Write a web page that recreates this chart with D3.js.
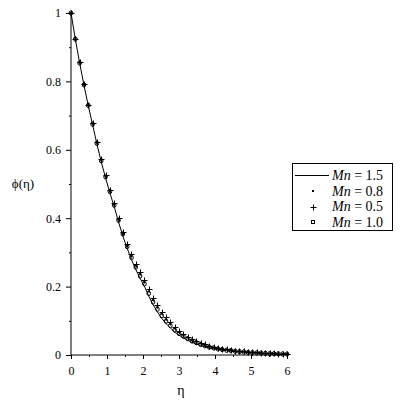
<!DOCTYPE html>
<html>
<head>
<meta charset="utf-8">
<script src="https://cdnjs.cloudflare.com/ajax/libs/d3/7.8.5/d3.min.js"></script>
<style>
  body { margin: 0; background: #fff; }
  svg text { font-family: "Liberation Serif", "Times New Roman", serif; fill: #000; }
</style>
</head>
<body>
<div id="chart"></div>
<script>
// eta grid (markers every 0.12)
var eta = [0, 0.12, 0.24, 0.36, 0.48, 0.6, 0.72, 0.84, 0.96, 1.08,
  1.2, 1.32, 1.44, 1.56, 1.68, 1.8, 1.92, 2.04, 2.16, 2.28,
  2.4, 2.52, 2.64, 2.76, 2.88, 3, 3.12, 3.24, 3.36, 3.48,
  3.6, 3.72, 3.84, 3.96, 4.08, 4.2, 4.32, 4.44, 4.56, 4.68,
  4.8, 4.92, 5.04, 5.16, 5.28, 5.4, 5.52, 5.64, 5.76, 5.88, 6];

// Mn = 1.5 (solid line)
var mn15 = [1, 0.924, 0.854, 0.789, 0.729, 0.673, 0.617, 0.565, 0.518, 0.474,
  0.434, 0.389, 0.348, 0.312, 0.279, 0.250, 0.224, 0.201, 0.172, 0.147,
  0.126, 0.107, 0.092, 0.079, 0.067, 0.058, 0.050, 0.043, 0.037, 0.032,
  0.028, 0.024, 0.021, 0.018, 0.016, 0.014, 0.0127, 0.0112, 0.0100, 0.0088,
  0.0078, 0.0069, 0.0062, 0.0055, 0.0048, 0.0043, 0.0038, 0.0034, 0.0030, 0.0027, 0.0024];

// Mn = 0.8 (dots)
var mn08 = [1, 0.925, 0.855, 0.791, 0.731, 0.677, 0.621, 0.570, 0.523, 0.480,
  0.441, 0.397, 0.357, 0.322, 0.290, 0.261, 0.237, 0.214, 0.186, 0.161,
  0.140, 0.121, 0.104, 0.091, 0.078, 0.067, 0.058, 0.051, 0.044, 0.039,
  0.034, 0.029, 0.025, 0.022, 0.020, 0.018, 0.016, 0.014, 0.012, 0.011,
  0.010, 0.0083, 0.0076, 0.0069, 0.0062, 0.0054, 0.0049, 0.0043, 0.0038, 0.0035, 0.0031];

// Mn = 0.5 (crosses)
var mn05 = [1, 0.925, 0.856, 0.791, 0.732, 0.678, 0.622, 0.572, 0.526, 0.483,
  0.444, 0.401, 0.361, 0.326, 0.294, 0.266, 0.242, 0.220, 0.192, 0.167,
  0.146, 0.126, 0.110, 0.096, 0.082, 0.071, 0.062, 0.054, 0.047, 0.041,
  0.036, 0.031, 0.027, 0.024, 0.021, 0.019, 0.017, 0.015, 0.013, 0.012,
  0.011, 0.009, 0.008, 0.0075, 0.0068, 0.006, 0.0053, 0.0047, 0.0042, 0.0038, 0.0034];

// Mn = 1.0 (small circles)
var mn10 = [1, 0.924, 0.854, 0.790, 0.730, 0.675, 0.619, 0.568, 0.521, 0.478,
  0.438, 0.394, 0.354, 0.317, 0.285, 0.257, 0.231, 0.208, 0.180, 0.155,
  0.134, 0.115, 0.099, 0.086, 0.073, 0.063, 0.055, 0.048, 0.041, 0.036,
  0.031, 0.027, 0.023, 0.021, 0.018, 0.016, 0.014, 0.013, 0.011, 0.010,
  0.009, 0.0077, 0.0070, 0.0063, 0.0056, 0.0049, 0.0044, 0.0039, 0.0035, 0.0031, 0.0028];

var xTicks = [0, 1, 2, 3, 4, 5, 6];
var xMinor = [0.5, 1.5, 2.5, 3.5, 4.5, 5.5];
var yTicks = [0, 0.2, 0.4, 0.6, 0.8, 1];
var yMinor = [0.1, 0.3, 0.5, 0.7, 0.9];

var legendItems = [
  {value: "1.5", kind: "line"},
  {value: "0.8", kind: "dot"},
  {value: "0.5", kind: "cross"},
  {value: "1.0", kind: "box"}
];

var serif = "Liberation Serif, Times New Roman, serif";
var width = 401, height = 401;

var svg = d3.select("#chart").append("svg")
    .attr("width", width)
    .attr("height", height);

var x = d3.scaleLinear().domain([0, 6]).range([71, 287]);
var y = d3.scaleLinear().domain([0, 1]).range([355, 13]);

function fmt(d) { return String(+d.toFixed(1)); }

// axes (major + minor ticks)
var xAxis = svg.append("g")
    .attr("transform", "translate(0,355)")
    .call(d3.axisBottom(x).tickValues(xTicks).tickSize(4).tickPadding(7).tickFormat(fmt));
svg.append("g")
    .attr("transform", "translate(0,355)")
    .call(d3.axisBottom(x).tickValues(xMinor).tickSize(2).tickFormat(""))
    .select(".domain").remove();

var yAxis = svg.append("g")
    .attr("transform", "translate(71,0)")
    .call(d3.axisLeft(y).tickValues(yTicks).tickSize(5).tickPadding(5).tickFormat(fmt));
svg.append("g")
    .attr("transform", "translate(71,0)")
    .call(d3.axisLeft(y).tickValues(yMinor).tickSize(2).tickFormat(""))
    .select(".domain").remove();

xAxis.select(".domain").remove();
yAxis.select(".domain").remove();
xAxis.attr("font-family", serif).attr("font-size", 12);
yAxis.attr("font-family", serif).attr("font-size", 12);
svg.append("line").attr("x1", x(0)).attr("x2", x(6)).attr("y1", y(0)).attr("y2", y(0))
    .attr("stroke", "#000");
svg.append("line").attr("x1", x(0)).attr("x2", x(0)).attr("y1", y(0)).attr("y2", y(1))
    .attr("stroke", "#000");

svg.selectAll(".tick text")
    .style("font-size", "12px")
    .style("font-family", serif)
    .attr("fill", "#000");
svg.selectAll(".tick line").attr("stroke", "#000");

// axis titles
svg.append("text")
    .attr("x", 181).attr("y", 395)
    .attr("text-anchor", "middle")
    .style("font-size", "14px")
    .style("font-family", serif)
    .text("η");
svg.append("text")
    .attr("x", 23).attr("y", 188)
    .attr("text-anchor", "middle")
    .style("font-size", "13px")
    .style("font-family", serif)
    .text("ϕ(η)");

function pts(vals) {
  return vals.map(function(v, i) { return [eta[i], v]; });
}

var line = d3.line()
    .x(function(d) { return x(d[0]); })
    .y(function(d) { return y(d[1]); });

var plot = svg.append("g");

// Mn = 1.5
plot.append("path")
    .datum(pts(mn15))
    .attr("d", line)
    .attr("fill", "none")
    .attr("stroke", "#000")
    .attr("stroke-width", 1);

// Mn = 1.0 circles
plot.selectAll(".circ")
    .data(pts(mn10))
    .enter().append("ellipse")
    .attr("class", "circ")
    .attr("cx", function(d) { return x(d[0]); })
    .attr("cy", function(d) { return y(d[1]); })
    .attr("rx", 1.8).attr("ry", 2.2)
    .attr("fill", "none")
    .attr("stroke", "#000")
    .attr("stroke-width", 1);

// Mn = 0.8 dots
plot.selectAll(".dot")
    .data(pts(mn08))
    .enter().append("rect")
    .attr("class", "dot")
    .attr("x", function(d) { return x(d[0]) - 1; })
    .attr("y", function(d) { return y(d[1]) - 1; })
    .attr("width", 2).attr("height", 2)
    .attr("fill", "#000");

// Mn = 0.5 crosses
plot.selectAll(".cross")
    .data(pts(mn05))
    .enter().append("path")
    .attr("class", "cross")
    .attr("d", function(d) {
      var cx = Math.round(x(d[0])) + 0.5, cy = Math.round(y(d[1])) + 0.5;
      return "M" + (cx - 3) + "," + cy + "H" + (cx + 3) + "M" + cx + "," + (cy - 3) + "V" + (cy + 3);
    })
    .attr("stroke", "#000")
    .attr("stroke-width", 1)
    .attr("fill", "none");

// legend
var lg = svg.append("g");
lg.append("rect")
    .attr("x", 292.5).attr("y", 163.5)
    .attr("width", 100).attr("height", 67)
    .attr("fill", "#fff")
    .attr("stroke", "#000");

legendItems.forEach(function(item, i) {
  var cy = 175.5 + i * 15.5;
  var row = lg.append("g");
  if (item.kind === "line") {
    row.append("line").attr("x1", 295).attr("x2", 329)
      .attr("y1", cy).attr("y2", cy).attr("stroke", "#000");
  } else if (item.kind === "dot") {
    row.append("rect").attr("x", 312).attr("y", Math.round(cy) - 1)
      .attr("width", 2).attr("height", 2).attr("fill", "#000");
  } else if (item.kind === "cross") {
    var c = Math.round(cy) + 0.5;
    row.append("path")
      .attr("d", "M310.5," + c + "H316.5M313.5," + (c - 3) + "V" + (c + 3))
      .attr("stroke", "#000").attr("fill", "none");
  } else {
    row.append("rect").attr("x", 311.5).attr("y", Math.round(cy) - 1.5)
      .attr("width", 3).attr("height", 3)
      .attr("fill", "none").attr("stroke", "#000");
  }
  var t = row.append("text")
      .attr("x", 332).attr("y", cy + 4.5)
      .style("font-size", "14px")
      .style("font-family", serif);
  t.append("tspan").style("font-style", "italic").text("Mn");
  t.append("tspan").text(" = " + item.value);
});
</script>
</body>
</html>
